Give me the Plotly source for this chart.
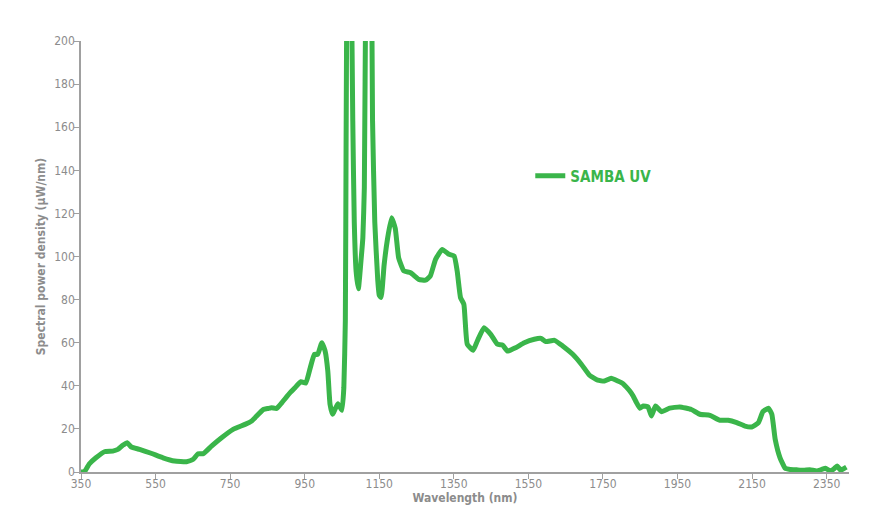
import plotly.graph_objects as go

wavelength = [350, 360, 372, 390, 413, 435, 449, 462, 474, 485, 507, 538, 570, 601, 633, 651, 664,
              678, 700, 727, 758, 790, 808, 817, 839, 852, 861, 875, 888, 911, 924, 940, 953,
              965, 976, 985, 996, 1005, 1012, 1018, 1025, 1039, 1050, 1055, 1059, 1061, 1064,
              1070, 1075, 1079, 1083, 1088, 1094, 1101, 1106, 1110, 1114, 1122, 1129, 1132,
              1138, 1146, 1150, 1155, 1163, 1172, 1183, 1193, 1202, 1216, 1234, 1256, 1274,
              1287, 1301, 1319, 1337, 1351, 1359, 1368, 1377, 1386, 1402, 1413, 1431, 1449,
              1467, 1481, 1494, 1516, 1539, 1566, 1584, 1597, 1620, 1642, 1669, 1692, 1714,
              1736, 1754, 1772, 1790, 1804, 1813, 1822, 1831, 1840, 1849, 1858, 1871, 1880,
              1891, 1907, 1929, 1956, 1987, 2010, 2037, 2064, 2086, 2109, 2131, 2149, 2167,
              2179, 2194, 2203, 2212, 2225, 2239, 2252, 2270, 2288, 2305, 2324, 2337, 2347,
              2360, 2370, 2378, 2388, 2396, 2403]
power = [0, 0.3, 3.7, 6.6, 9.4, 9.7, 10.5, 12.4, 13.6, 11.6, 10.5, 8.7, 6.6, 5.1, 4.8, 5.9, 8.5,
         8.5, 12, 15.9, 19.8, 22.1, 23.7, 25.2, 29, 29.5, 29.8, 29.5, 32, 36.8, 39.1, 41.9, 41.3,
         48.4, 54.6, 54.6, 60, 56, 46.9, 31.4, 26.8, 31.7, 28.6, 39, 70, 150, 240,
         265, 230, 163, 116, 93, 85, 98, 108.7, 132, 230, 290, 240, 163,
         116, 89, 82, 81, 96, 108, 118, 113, 99.4, 93.3, 92.5, 89.4, 89,
         91, 98.7, 103.3, 101, 100.2, 93.3, 80.9, 77.8, 59.3, 56.5, 60.8, 67, 63.9,
         59.3, 58.9, 56.1, 57.7, 60, 61.6, 62, 60.5, 61.1, 58.5, 54.6, 50, 44.9,
         42.6, 42.2, 43.5, 42.2, 41, 39.4, 37.6, 35.3, 32.2, 29.6, 30.6, 30.2, 26,
         30.6, 28, 29.6, 30.2, 29, 26.8, 26.3, 24, 24, 22.9, 21.3, 20.9, 22.9,
         28, 29.6, 26.8, 15.2, 6.6, 1.7, 1.2, 1.0, 0.8, 1.0, 0.5, 1.2, 1.7,
         0.5, 1.5, 2.8, 0.8, 1.6, 2.3]

x_ticks = [350, 550, 750, 950, 1150, 1350, 1550, 1750, 1950, 2150, 2350]
y_ticks = [0, 20, 40, 60, 80, 100, 120, 140, 160, 180, 200]

FONT = "DejaVu Sans Condensed, Roboto, sans-serif"
GRAY = "#8c8c8c"
GREEN = "#3ab54a"

fig = go.Figure()
fig.add_trace(go.Scatter(
    x=wavelength, y=power, mode="lines", name="SAMBA UV",
    line=dict(color=GREEN, width=5, shape="spline", smoothing=0.4),
))

fig.update_layout(
    width=862, height=514,
    margin=dict(l=73, r=21, t=33, b=50),
    paper_bgcolor="white", plot_bgcolor="white",
    font=dict(family=FONT, color=GRAY, size=12),
    showlegend=True,
    legend=dict(x=0.585, y=0.687, xanchor="left", yanchor="middle",
                bgcolor="rgba(0,0,0,0)", itemwidth=30,
                font=dict(family=FONT, size=15, color=GREEN, weight="bold")),
)
fig.update_xaxes(
    range=[350, 2410], tickmode="array", tickvals=x_ticks,
    ticks="outside", ticklen=5, tickcolor="#a0a0a0", tickwidth=1,
    ticklabelstandoff=-5,
    showline=True, linecolor="#a0a0a0", linewidth=1.5,
    showgrid=False, zeroline=False,
    tickfont=dict(size=12, color=GRAY),
    title=dict(text="<b>Wavelength (nm)</b>", font=dict(size=12, color=GRAY), standoff=2),
)
fig.update_yaxes(
    range=[0, 200], tickmode="array", tickvals=y_ticks,
    ticks="outside", ticklen=5, tickcolor="#a0a0a0", tickwidth=1,
    ticklabelstandoff=-3,
    showline=True, linecolor="#a0a0a0", linewidth=1.5,
    showgrid=False, zeroline=False,
    tickfont=dict(size=12, color=GRAY),
    title=dict(text="<b>Spectral power density (μW/nm)</b>", font=dict(size=12, color=GRAY), standoff=6),
)

fig.write_html("out.html")
